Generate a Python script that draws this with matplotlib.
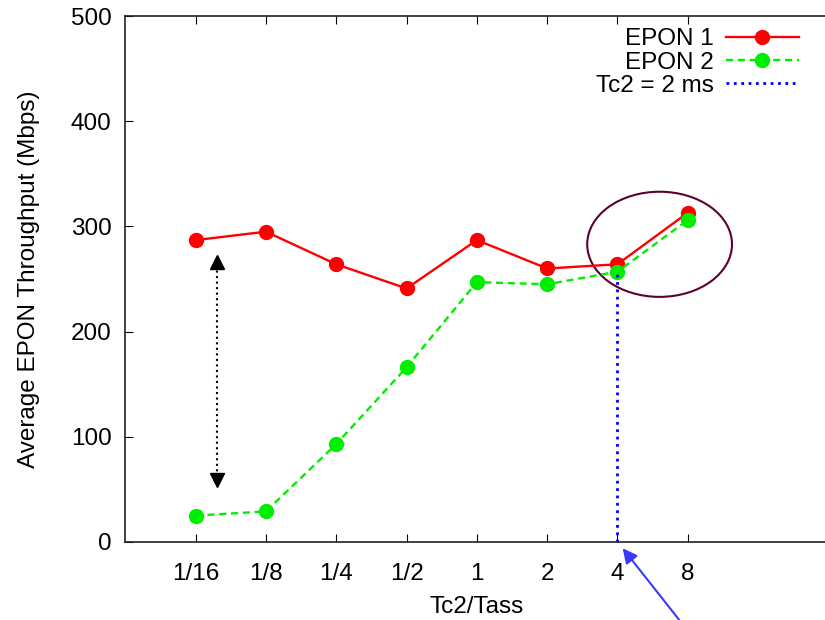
import matplotlib
matplotlib.use("Agg")
import matplotlib.pyplot as plt
from matplotlib.patches import Ellipse

plt.rcParams["font.family"] = ["Liberation Sans", "DejaVu Sans"]

ratios = ["1/16", "1/8", "1/4", "1/2", "1", "2", "4", "8"]
epon1 = [287, 295, 264, 241, 287, 260, 264, 313]
epon2 = [25, 29, 93, 166, 247, 245, 257, 306]

tc2_pos = 7          # category "4" -> Tc2 = 2 ms
tc2_top = 257
gap_x = 1.31         # double arrow between the curves at 1/16
gap_top, gap_bot = 273, 52

x = list(range(1, len(ratios) + 1))
FS = 17.5

fig = plt.figure(figsize=(8.25, 6.2), dpi=100)
ax = fig.add_axes([0.152, 0.126, 0.852, 0.848])

ax.plot(x, epon1, "-", color="#ff0000", lw=1.7, marker="o", ms=10,
        label="EPON 1")
ax.plot(x, epon2, "--", color="#00ee00", lw=1.7, marker="o", ms=10,
        label="EPON 2", dashes=(3, 2))
ax.plot([tc2_pos, tc2_pos], [0, tc2_top], ":", color="#0000ff", lw=2,
        label="Tc2 = 2 ms")

# gap arrow
ax.plot([gap_x, gap_x], [gap_top - 10, gap_bot + 10], ":", color="black", lw=1.5)
ax.plot(gap_x, gap_top - 7, marker="^", color="black", ms=10, ls="none")
ax.plot(gap_x, gap_bot + 7, marker="v", color="black", ms=10, ls="none")

ax.add_patch(Ellipse((7.6, 283), 2.06, 100, fill=False, ec="#5c0030", lw=1.5))

ax.annotate("", xy=(7.05, -4), xytext=(7.9, -76),
            arrowprops=dict(arrowstyle="-|>", color="#3a3aff", lw=1.5,
                            mutation_scale=22),
            annotation_clip=False)

ax.set_xlim(0, 10)
ax.set_ylim(0, 500)
ax.set_xticks(x)
ax.set_xticklabels(ratios)
ax.set_yticks(range(0, 501, 100))
ax.tick_params(direction="in", length=6, labelsize=FS, top=True)
ax.tick_params(axis="x", pad=15)
ax.tick_params(axis="y", pad=10)
ax.spines["right"].set_visible(False)
for s in ax.spines.values():
    s.set_linewidth(1.2)
    s.set_color("#222222")

ax.set_xlabel("Tc2/Tass", fontsize=FS, labelpad=8)
ax.set_ylabel("Average EPON Throughput (Mbps)", fontsize=FS, labelpad=22)

ax.legend(loc="upper right", frameon=False, markerfirst=False, fontsize=FS,
          handlelength=3.0, handletextpad=0.5, labelspacing=0.05,
          borderaxespad=0.1, bbox_to_anchor=(0.975, 1.0))

fig.savefig("out.png", dpi=100)
